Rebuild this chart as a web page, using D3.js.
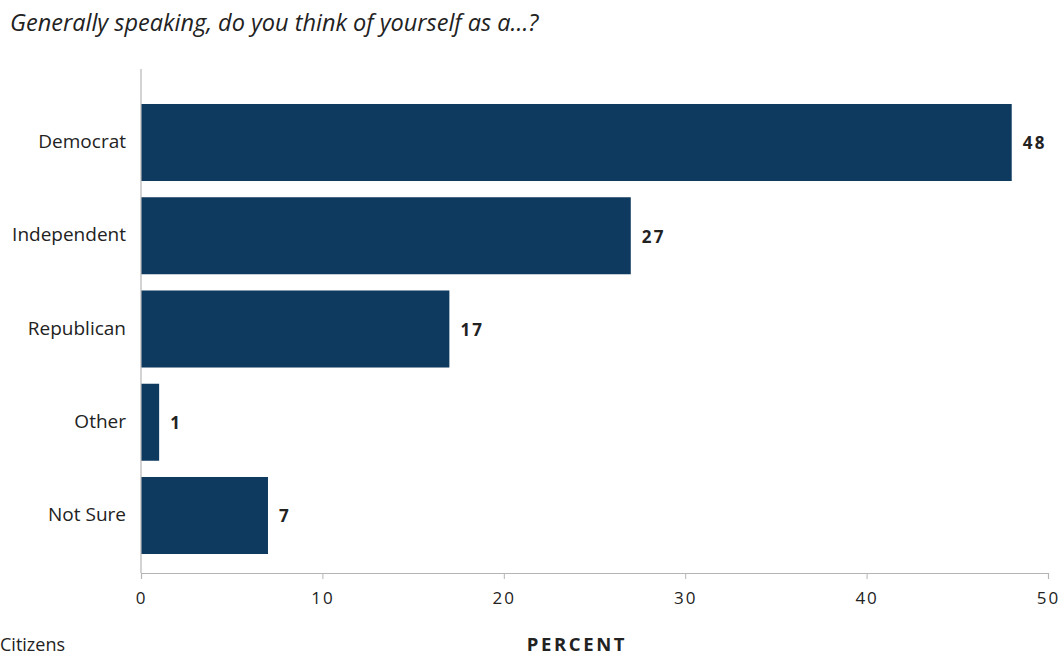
<!DOCTYPE html>
<html>
<head>
<meta charset="utf-8">
<script src="https://cdn.jsdelivr.net/npm/d3@7"></script>
<style>
  html, body { margin: 0; padding: 0; background: #fff; }
  svg { display: block; }
</style>
</head>
<body>
<svg id="chart" width="1064" height="657"></svg>
<script>
// Party identification responses (percent)
const categories = ["Democrat", "Independent", "Republican", "Other", "Not Sure"];
const values = [48, 27, 17, 1, 7];
const xTicks = [0, 10, 20, 30, 40, 50];

const svg = d3.select("#chart");
const barColor = "#0f3a60";
const axisColor = "#b5b5b5";
const textColor = "#222";

const x = d3.scaleLinear().domain([0, 50]).range([141, 1048]);
const y = d3.scaleBand()
  .domain(categories)
  .range([95.6, 562.4])
  .paddingInner(0.174)
  .paddingOuter(0.09);

// Title
svg.append("text")
  .attr("x", 10).attr("y", 31)
  .attr("font-family", "Open Sans")
  .attr("font-style", "italic")
  .attr("font-size", 23.5)
  .attr("fill", textColor)
  .text("Generally speaking, do you think of yourself as a...?");

// Bars
svg.append("g").selectAll("rect")
  .data(categories)
  .join("rect")
  .attr("x", x(0))
  .attr("y", d => y(d))
  .attr("width", (d, i) => x(values[i]) - x(0))
  .attr("height", y.bandwidth())
  .attr("fill", barColor);

// Value labels
svg.append("g").selectAll("text")
  .data(categories)
  .join("text")
  .attr("x", (d, i) => x(values[i]) + 11)
  .attr("y", d => y(d) + y.bandwidth() / 2 + 1)
  .attr("dy", "0.35em")
  .attr("font-family", "Open Sans")
  .attr("font-weight", 700)
  .attr("font-size", 17)
  .attr("letter-spacing", 2.2)
  .attr("fill", textColor)
  .text((d, i) => values[i]);

// Category labels
svg.append("g").selectAll("text")
  .data(categories)
  .join("text")
  .attr("x", 126)
  .attr("y", d => y(d) + y.bandwidth() / 2 - 1)
  .attr("dy", "0.35em")
  .attr("text-anchor", "end")
  .attr("font-family", "Open Sans")
  .attr("font-size", 19)
  .attr("fill", textColor)
  .text(d => d);

// Vertical baseline
svg.append("line")
  .attr("x1", x(0)).attr("x2", x(0))
  .attr("y1", 69).attr("y2", 573)
  .attr("stroke", axisColor).attr("stroke-width", 1.2);

// X axis
const xAxis = d3.axisBottom(x).tickValues(xTicks).tickSize(6).tickPadding(13);
const gx = svg.append("g").attr("transform", "translate(0,573)").call(xAxis);
gx.select(".domain").attr("stroke", axisColor).attr("stroke-width", 1.2);
gx.selectAll(".tick line").attr("stroke", axisColor);
gx.selectAll(".tick text")
  .attr("font-family", "Open Sans")
  .attr("font-size", 17)
  .attr("letter-spacing", 2)
  .attr("fill", textColor);

// Axis title
svg.append("text")
  .attr("x", 577).attr("y", 651)
  .attr("text-anchor", "middle")
  .attr("font-family", "Open Sans")
  .attr("font-weight", 700)
  .attr("font-size", 18.5)
  .attr("letter-spacing", 2.6)
  .attr("fill", textColor)
  .text("PERCENT");

// Source note at the bottom-left corner
svg.append("text")
  .attr("x", 0).attr("y", 651)
  .attr("font-family", "Open Sans")
  .attr("font-size", 18)
  .attr("fill", textColor)
  .text("Citizens");
</script>
</body>
</html>
